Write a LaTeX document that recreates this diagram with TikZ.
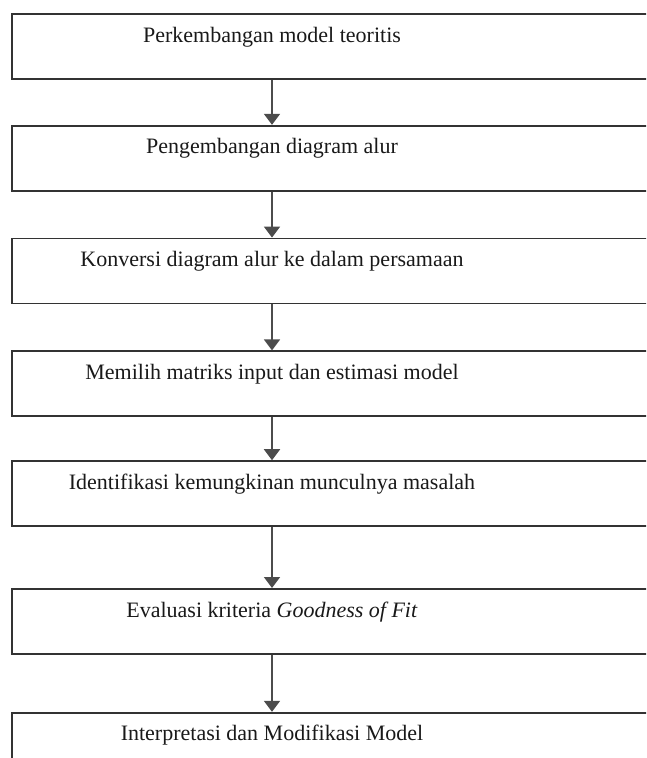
\documentclass[tikz,border=0pt]{standalone}
\usepackage{fontspec}
\setmainfont{Liberation Serif}
\usepackage{tikz}
\usetikzlibrary{positioning, arrows.meta}
\tikzstyle{stage} = [rectangle, minimum width=700pt, minimum height=65pt, inner sep=0pt, draw=black!80, line width=1.8pt]
\tikzstyle{caption} = [anchor=base, inner sep=0pt, text=black!90, font=\fontsize{22}{26}\selectfont]
\tikzstyle{arrow} = [line width=1.8pt, draw=black!70, -{Triangle[width=16pt,length=11pt]}, >=Stealth]

\begin{document}
\begin{tikzpicture}[x=1pt, y=-1pt]

        \useasboundingbox (0,0) rectangle (646,758);
        \clip (0,0) rectangle (646,758);

        \node (b1) [stage, anchor=north west] at (11,13) {};
        \node (b2) [stage, below=45pt of b1] {};
        \node (b3) [stage, below=46pt of b2] {};
        \node (b4) [stage, below=46pt of b3] {};
        \node (b5) [stage, below=43pt of b4] {};
        \node (b6) [stage, below=61pt of b5] {};
        \node (b7) [stage, below=57pt of b6] {};

        \node (t1) [caption] at ([xshift=261pt, yshift=-29pt]b1.north west) {Perkembangan model teoritis};
        \node (t2) [caption] at ([xshift=261pt, yshift=-29pt]b2.north west) {Pengembangan diagram alur};
        \node (t3) [caption] at ([xshift=261pt, yshift=-29pt]b3.north west) {Konversi diagram alur ke dalam persamaan};
        \node (t4) [caption] at ([xshift=261pt, yshift=-29pt]b4.north west) {Memilih matriks input dan estimasi model};
        \node (t5) [caption] at ([xshift=261pt, yshift=-29pt]b5.north west) {Identifikasi kemungkinan munculnya masalah};
        \node (t6) [caption] at ([xshift=261pt, yshift=-29pt]b6.north west) {Evaluasi kriteria \textit{Goodness of Fit}};
        \node (t7) [caption] at ([xshift=261pt, yshift=-29pt]b7.north west) {Interpretasi dan Modifikasi Model};

        \draw [arrow] (b1.south -| t1) -- (b2.north -| t1);
        \draw [arrow] (b2.south -| t1) -- (b3.north -| t1);
        \draw [arrow] (b3.south -| t1) -- (b4.north -| t1);
        \draw [arrow] (b4.south -| t1) -- (b5.north -| t1);
        \draw [arrow] (b5.south -| t1) -- (b6.north -| t1);
        \draw [arrow] (b6.south -| t1) -- (b7.north -| t1);

    \end{tikzpicture}
\end{document}
